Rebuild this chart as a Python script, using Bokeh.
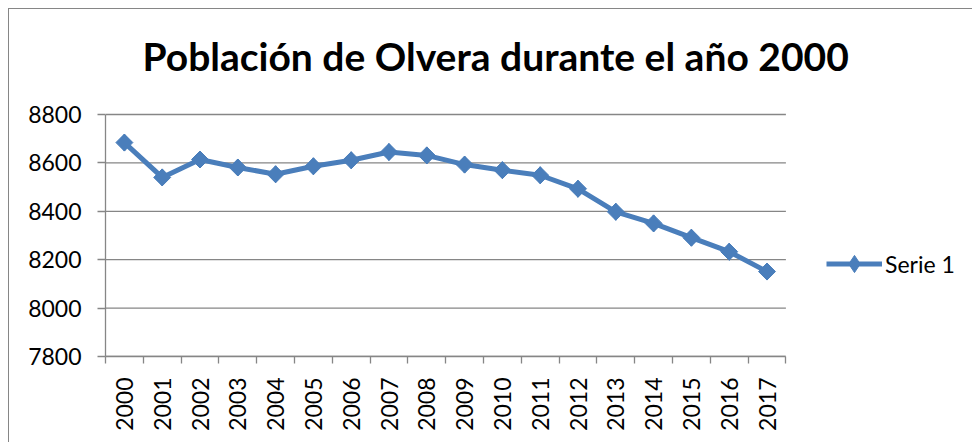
import math
from bokeh.plotting import figure
from bokeh.models import Range1d, FixedTicker, Legend, LegendItem, Label
from bokeh.embed import file_html
from bokeh.resources import INLINE

# ---- data ----
years = ["2000", "2001", "2002", "2003", "2004", "2005", "2006", "2007", "2008",
         "2009", "2010", "2011", "2012", "2013", "2014", "2015", "2016", "2017"]
population = [8684, 8540, 8614, 8581, 8553, 8586, 8611, 8645, 8631,
              8593, 8570, 8549, 8493, 8398, 8350, 8291, 8233, 8151]
y_ticks = [7800, 8000, 8200, 8400, 8600, 8800]
title_text = "Población de Olvera durante el año 2000"
series_name = "Serie 1"

BLUE = "#4A7EBB"
GREY = "#868686"
FONT = "Lato"

n = len(years)
xs = [i + 0.5 for i in range(n)]

# layout (canvas pixels)
W, H = 964, 434
B_LEFT, B_RIGHT, B_TOP, B_BOTTOM = 96, 5, 0, 87
PLOT_W = 680.4   # width of the category area (legend sits to its right)
PLOT_H = 242.0   # height of the value area (title sits above it)
frame_w = W - B_LEFT - B_RIGHT
frame_h = H - B_TOP - B_BOTTOM
x_end = n * frame_w / PLOT_W
y_end = y_ticks[0] + (y_ticks[-1] - y_ticks[0]) * frame_h / PLOT_H

p = figure(width=W, height=H, output_backend="svg", toolbar_location=None,
           x_range=Range1d(0, x_end), y_range=Range1d(y_ticks[0], y_end),
           min_border_left=B_LEFT, min_border_right=B_RIGHT,
           min_border_top=B_TOP, min_border_bottom=B_BOTTOM)
p.styles = {"margin-left": "8px", "margin-top": "8px",
            "border-left": "1px solid #868686", "border-top": "1px solid #868686"}
p.outline_line_color = None
p.background_fill_color = "white"
p.border_fill_color = "white"

# x axis: labels at category centers, tick marks at boundaries
xt = FixedTicker(ticks=xs, minor_ticks=list(range(n + 1)))
p.xaxis.ticker = xt
p.xaxis.bounds = (0, n)
p.xaxis.major_label_overrides = {x: y for x, y in zip(xs, years)}
p.xaxis.major_tick_line_color = None
p.xaxis.minor_tick_in = 0
p.xaxis.minor_tick_out = 7
p.xaxis.minor_tick_line_color = GREY
p.xaxis.minor_tick_line_width = 1.3
p.xaxis.major_label_orientation = math.pi / 2
p.xaxis.major_label_standoff = 14
p.xaxis.major_label_text_font = FONT
p.xaxis.major_label_text_font_size = "23px"
p.xaxis.major_label_text_color = "black"
p.xaxis.axis_line_color = GREY
p.xaxis.axis_line_width = 1.3

# y axis
p.yaxis.ticker = FixedTicker(ticks=y_ticks, minor_ticks=[])
p.yaxis.bounds = (y_ticks[0], y_ticks[-1])
p.yaxis.major_tick_in = 0
p.yaxis.major_tick_out = 8
p.yaxis.major_tick_line_color = GREY
p.yaxis.major_tick_line_width = 1.3
p.yaxis.minor_tick_line_color = None
p.yaxis.major_label_standoff = 16
p.yaxis.major_label_text_font = FONT
p.yaxis.major_label_text_font_size = "23px"
p.yaxis.major_label_text_color = "black"
p.yaxis.axis_line_color = GREY
p.yaxis.axis_line_width = 1.3

p.xgrid.grid_line_color = None
p.ygrid.grid_line_color = None
# horizontal gridlines limited to the category area
p.segment(x0=[0] * len(y_ticks), y0=y_ticks, x1=[n] * len(y_ticks), y1=y_ticks,
          line_color=GREY, line_width=1.3)

line_r = p.line(xs, population, line_color=BLUE, line_width=5)
leg_r = p.scatter(xs, population, marker="diamond", size=17,
                  fill_color=BLUE, line_color=BLUE)
pts_r = p.scatter(xs, population, marker="square", size=12, angle=math.pi / 4,
                  fill_color=BLUE, line_color=BLUE)

# title (frame-relative screen position)
p.add_layout(Label(text=title_text, x=37, y=301, x_units="screen", y_units="screen",
                   text_align="left", text_baseline="alphabetic",
                   text_font=FONT, text_font_size="39px", text_font_style="bold",
                   text_color="black"))

legend = Legend(items=[LegendItem(label=series_name, renderers=[line_r, leg_r])],
                location=(721, 71), glyph_width=56, glyph_height=43,
                label_height=43, padding=0, margin=0, spacing=0,
                label_standoff=3, border_line_color=None,
                background_fill_alpha=0, label_text_font=FONT,
                label_text_font_size="23px", label_text_color="black")
p.add_layout(legend, "center")

open("out.html", "w").write(file_html(p, INLINE))
